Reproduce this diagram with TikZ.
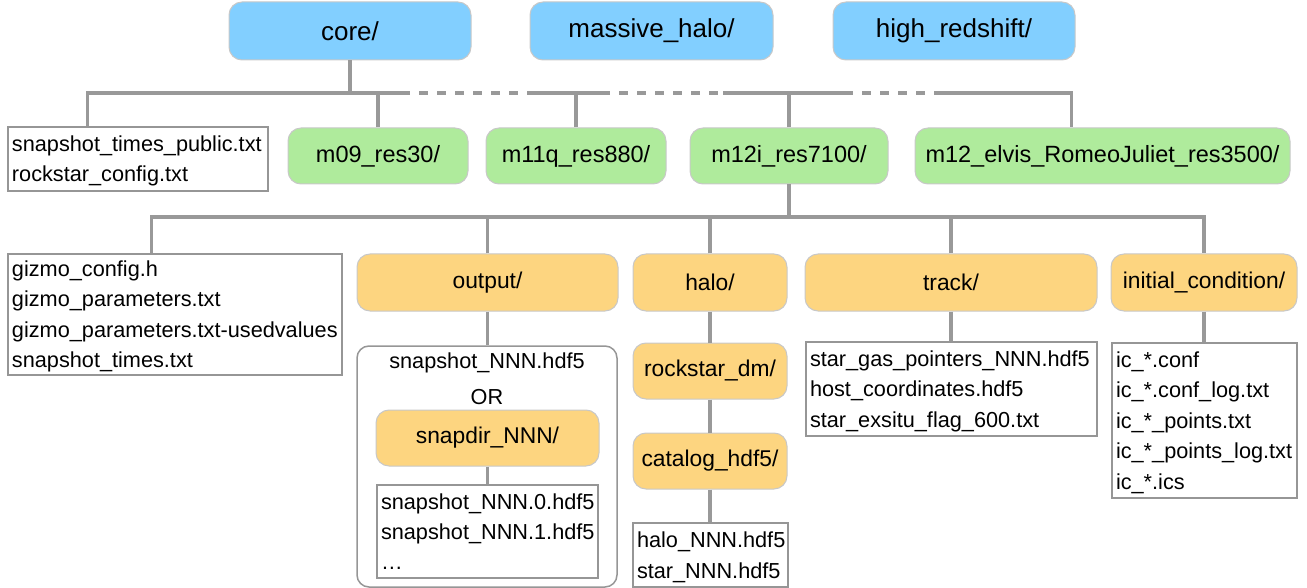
\documentclass[tikz,border=0pt]{standalone}
\usepackage{fontspec}
\setmainfont{Liberation Sans}
\definecolor{conncol}{RGB}{153,153,153}
\definecolor{bluefill}{RGB}{130,207,255}
\definecolor{greenfill}{RGB}{175,235,156}
\definecolor{orangefill}{RGB}{253,213,128}
\definecolor{boxedge}{RGB}{200,200,200}
\definecolor{fileedge}{RGB}{150,150,150}
\newcommand{\lowerfirst}{\rule{0pt}{20pt}}
\begin{document}
\begin{tikzpicture}[x=1pt,y=-1pt,
  folder/.style={draw=boxedge, line width=1pt, rounded corners=13pt, inner sep=0pt, align=center},
  bluebox/.style={folder, fill=bluefill, minimum height=58pt, font=\fontsize{26}{30}\selectfont},
  greenbox/.style={folder, fill=greenfill, minimum height=56pt, font=\fontsize{23.5}{28}\selectfont},
  orangebox/.style={folder, fill=orangefill, minimum height=56pt, font=\fontsize{22.8}{28}\selectfont},
  filebox/.style={draw=fileedge, line width=1.2pt, fill=white, inner xsep=4pt, inner ysep=0pt, align=left, font=\fontsize{21.7}{30.5}\selectfont},
  plaintext/.style={inner sep=0pt, font=\fontsize{21.7}{30}\selectfont},
  conn/.style={draw=conncol, line width=3.6pt},
  gapline/.style={conn, dash pattern=on 9pt off 9pt, dash phase=9pt},
  groupbox/.style={draw=fileedge, line width=1.5pt, rounded corners=12pt, fill=white, inner sep=0pt}]
\useasboundingbox (0,0) rectangle (1307,588);

% top level
\node[bluebox, minimum width=242pt] (core) at (350,31) {core/};
\node[bluebox, minimum width=243pt] (mhalo) at (651.5,31) {massive\_halo/};
\node[bluebox, minimum width=242pt] (hiz) at (954,31) {high\_redshift/};

% second level
\node[filebox, text width=252pt, minimum height=64pt] (f1) at (138,159) {\lowerfirst snapshot\_times\_public.txt\\rockstar\_config.txt};
\node[greenbox, minimum width=180pt] (m09) at (378,156) {m09\_res30/};
\node[greenbox, minimum width=180pt] (m11q) at (576,156) {m11q\_res880/};
\node[greenbox, minimum width=198pt] (m12i) at (789,156) {m12i\_res7100/};
\node[greenbox, minimum width=375pt] (elvis) at (1102.5,156) {m12\_elvis\_RomeoJuliet\_res3500/};

% third level
\node[filebox, text width=326pt, minimum height=121pt] (giz) at (175,314.5) {\lowerfirst gizmo\_config.h\\gizmo\_parameters.txt\\\mbox{gizmo\_parameters.txt-usedvalues}\\snapshot\_times.txt};
\node[orangebox, minimum width=261pt, minimum height=57pt] (out) at (487.5,282.5) {output/};
\node[orangebox, minimum width=154pt, minimum height=57pt] (halo) at (710,282.5) {halo/};
\node[orangebox, minimum width=292pt, minimum height=57pt] (track) at (951,282.5) {track/};
\node[orangebox, minimum width=186pt, minimum height=57pt] (ic) at (1204,282.5) {initial\_condition/};

% output group
\node[groupbox, minimum width=260pt, minimum height=241pt] (grp) at (487,466.5) {};
\node[plaintext] (snapone) at (487,363) {snapshot\_NNN.hdf5};
\node[plaintext] (orword) at (487,397) {OR};
\node[orangebox, minimum width=223pt] (snapdir) at (487.5,438) {snapdir\_NNN/};
\node[filebox, text width=213pt, minimum height=93pt, font=\fontsize{21.7}{30}\selectfont] (snapfiles) at (487.5,531.5) {snapshot\_NNN.0.hdf5\\snapshot\_NNN.1.hdf5\\…};

% halo chain
\node[orangebox, minimum width=154pt] (rock) at (710,371) {rockstar\_dm/};
\node[orangebox, minimum width=154pt] (cat) at (710,461) {catalog\_hdf5/};
\node[filebox, text width=147pt, minimum height=64pt] (halofiles) at (710.5,555) {\lowerfirst halo\_NNN.hdf5\\star\_NNN.hdf5};

% track and ic files
\node[filebox, text width=283pt, minimum height=94pt] (trackfiles) at (951.5,389) {\lowerfirst star\_gas\_pointers\_NNN.hdf5\\host\_coordinates.hdf5\\star\_exsitu\_flag\_600.txt};
\node[filebox, text width=177pt, minimum height=155pt] (icfiles) at (1204.5,420.5) {\lowerfirst ic\_*.conf\\ic\_*.conf\_log.txt\\ic\_*\_points.txt\\ic\_*\_points\_log.txt\\ic\_*.ics};

% first bus
\coordinate (b1) at (410,93);
\coordinate (b2) at (528,93);
\coordinate (b3) at (610,93);
\coordinate (b4) at (723,93);
\coordinate (b5) at (853,93);
\coordinate (b6) at (943,93);
\draw[conn] ([xshift=80pt]f1.north west) |- (b1);
\draw[gapline] (b1) -- (b2);
\draw[conn] (b2) -- (b3);
\draw[gapline] (b3) -- (b4);
\draw[conn] (b4) -- (b5);
\draw[gapline] (b5) -- (b6);
\draw[conn] (b6) -| ([xshift=157pt]elvis.north west);
\draw[conn] (core.south) -- (core.south |- b1);
\draw[conn] (m09.north) -- (m09.north |- b1);
\draw[conn] (m11q.north) -- (m11q.north |- b1);
\draw[conn] (m12i.north) -- (m12i.north |- b1);

% second bus
\coordinate (bus2) at (0,217);
\draw[conn] ([xshift=144pt]giz.north west) |- (ic.north |- bus2) -- (ic.north);
\draw[conn] (m12i.south) -- (m12i.south |- bus2);
\draw[conn] (out.north) -- (out.north |- bus2);
\draw[conn] (halo.north) -- (halo.north |- bus2);
\draw[conn] (track.north) -- (track.north |- bus2);

% lower connectors
\draw[conn] (out.south) -- (out.south |- grp.north);
\draw[conn] (snapdir.south) -- (snapdir.south |- snapfiles.north);
\draw[conn] (halo.south) -- (rock.north);
\draw[conn] (rock.south) -- (cat.north);
\draw[conn] (cat.south) -- (cat.south |- halofiles.north);
\draw[conn] (track.south) -- (track.south |- trackfiles.north);
\draw[conn] (ic.south) -- (ic.south |- icfiles.north);
\end{tikzpicture}
\end{document}
